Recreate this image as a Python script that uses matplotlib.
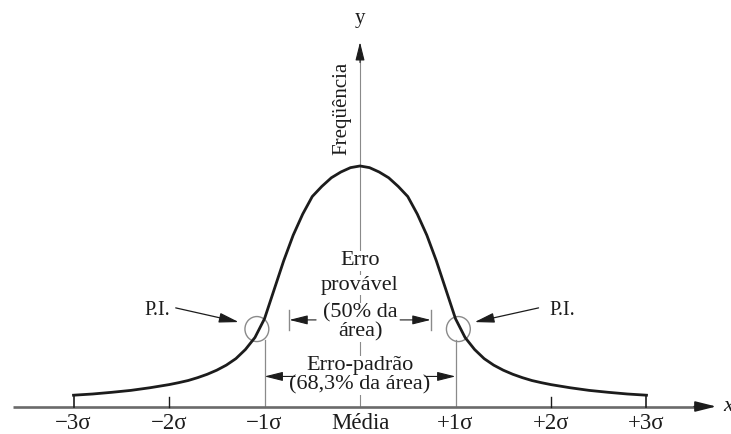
import matplotlib

matplotlib.use("Agg")
import matplotlib.pyplot as plt
from matplotlib.patches import Ellipse
import numpy as np

plt.rcParams["font.family"] = ["Liberation Serif", "DejaVu Serif"]

# ── Curve (half profile, mirrored about the mean) ─────────────────────────────
SIGMA_HALF = [0.0, 0.1, 0.2, 0.3, 0.4, 0.5, 0.6, 0.7, 0.8, 0.9, 1.0,
              1.1, 1.2, 1.3, 1.4, 1.5, 1.6, 1.7, 1.8, 1.9, 2.0,
              2.2, 2.4, 2.6, 2.8, 3.0]
FREQ_HALF = [1.000, 0.993, 0.975, 0.951, 0.915, 0.873, 0.800, 0.712, 0.605, 0.485, 0.365,
             0.287, 0.237, 0.199, 0.172, 0.151, 0.134, 0.120, 0.108, 0.099, 0.091,
             0.078, 0.067, 0.059, 0.052, 0.047]

TICK_POS = [-3, -2, -1, 0, 1, 2, 3]
TICK_LABELS = ["−3σ", "−2σ", "−1σ", "Média", "+1σ", "+2σ", "+3σ"]

PROB_HALF = 0.74      # half-width of the "erro provável" bracket (σ)
STD_HALF = 1.0        # half-width of the "erro-padrão" bracket (σ)
PI_X = [-1.08, 1.03]  # inflection-point markers
PI_Y = 0.322

INK = "#1c1c1c"
GREY = "#8a8a8a"
AXIS = "#6a6a6a"

xs = np.array([-s for s in SIGMA_HALF[::-1]] + SIGMA_HALF[1:])
ys = np.array(FREQ_HALF[::-1] + FREQ_HALF[1:])

fig = plt.figure(figsize=(7.31, 4.34), dpi=100)
ax = fig.add_axes([0, 0, 1, 1])
ax.set_xlim(-3.770, 3.885)
ax.set_ylim(-0.1143, 1.690)
ax.axis("off")

head = "-|>,head_length=0.8,head_width=0.2"

# ── Axes with arrows ──────────────────────────────────────────────────────────
ax.plot([-3.63, 3.55], [0, 0], color=AXIS, lw=1.9, solid_capstyle="butt", zorder=2)
ax.annotate("", xy=(3.73, 0), xytext=(3.50, 0),
            arrowprops=dict(arrowstyle=head, color=INK, lw=1.2, mutation_scale=16,
                            shrinkA=0, shrinkB=0), zorder=3)
ax.text(3.80, 0.0, "x", fontsize=16, style="italic", color=INK, ha="left", va="center")

ax.plot([0, 0], [0, 1.45], color=GREY, lw=0.8, zorder=1)
ax.annotate("", xy=(0, 1.515), xytext=(0, 1.43),
            arrowprops=dict(arrowstyle=head, color=INK, lw=0.8, mutation_scale=14,
                            shrinkA=0, shrinkB=0), zorder=3)
ax.text(0.0, 1.615, "y", fontsize=15, color=INK, ha="center", va="center")
ax.text(-0.19, 1.24, "Freqüência", fontsize=15, color=INK, rotation=90,
        ha="center", va="center")

# ── Bell curve ────────────────────────────────────────────────────────────────
ax.plot(xs, ys, color=INK, lw=2.0, zorder=4, solid_joinstyle="round")

# ── Ticks and labels ──────────────────────────────────────────────────────────
for p in (-3, 3):
    ax.plot([p, p], [0, FREQ_HALF[-1]], color=INK, lw=1.2, zorder=3)
for p in (-2, 2):
    ax.plot([p, p], [0, 0.04], color=INK, lw=1.0, zorder=3)
for p in (-STD_HALF, STD_HALF):
    ax.plot([p, p], [0, 0.277], color=GREY, lw=0.9, zorder=1)
for p, lab in zip(TICK_POS, TICK_LABELS):
    ax.text(p, -0.071, lab, fontsize=16.5, color=INK, ha="center", va="center")

# ── Inflection points ─────────────────────────────────────────────────────────
for px in PI_X:
    ax.add_patch(Ellipse((px, PI_Y), 0.25, 0.104, facecolor="none",
                         edgecolor=GREY, lw=1.0, zorder=3))
ax.text(-2.12, 0.40, "P.I.", fontsize=14.5, color=INK, ha="center", va="center")
ax.text(2.12, 0.40, "P.I.", fontsize=14.5, color=INK, ha="center", va="center")
ax.annotate("", xy=(-1.27, 0.351), xytext=(-1.93, 0.41),
            arrowprops=dict(arrowstyle=head, color=INK, lw=0.9, mutation_scale=15,
                            shrinkA=0, shrinkB=0), zorder=5)
ax.annotate("", xy=(1.20, 0.351), xytext=(1.87, 0.41),
            arrowprops=dict(arrowstyle=head, color=INK, lw=0.9, mutation_scale=15,
                            shrinkA=0, shrinkB=0), zorder=5)

# ── Central annotations ───────────────────────────────────────────────────────
box = dict(facecolor="white", edgecolor="none", pad=0.3)
for y, s in [(0.605, "Erro"), (0.505, "provável"), (0.390, "(50% da"),
             (0.312, "área)"), (0.170, "Erro-padrão"), (0.088, "(68,3% da área)")]:
    ax.text(0.0, y, s, fontsize=16, color=INK, ha="center", va="center",
            bbox=box, zorder=2)

# erro provável bracket
for p in (-PROB_HALF, PROB_HALF):
    ax.plot([p, p], [0.318, 0.401], color=GREY, lw=1.0, zorder=3)
ax.annotate("", xy=(-PROB_HALF, 0.36), xytext=(-0.46, 0.36),
            arrowprops=dict(arrowstyle=head, color=INK, lw=0.8, mutation_scale=14,
                            shrinkA=0, shrinkB=0), zorder=5)
ax.annotate("", xy=(PROB_HALF, 0.36), xytext=(0.42, 0.36),
            arrowprops=dict(arrowstyle=head, color=INK, lw=0.8, mutation_scale=14,
                            shrinkA=0, shrinkB=0), zorder=5)

# erro-padrão bracket
ax.annotate("", xy=(-STD_HALF, 0.125), xytext=(-0.68, 0.125),
            arrowprops=dict(arrowstyle=head, color=INK, lw=0.8, mutation_scale=14,
                            shrinkA=0, shrinkB=0), zorder=5)
ax.annotate("", xy=(STD_HALF, 0.125), xytext=(0.68, 0.125),
            arrowprops=dict(arrowstyle=head, color=INK, lw=0.8, mutation_scale=14,
                            shrinkA=0, shrinkB=0), zorder=5)

fig.savefig("out.png", dpi=100, facecolor="white")
